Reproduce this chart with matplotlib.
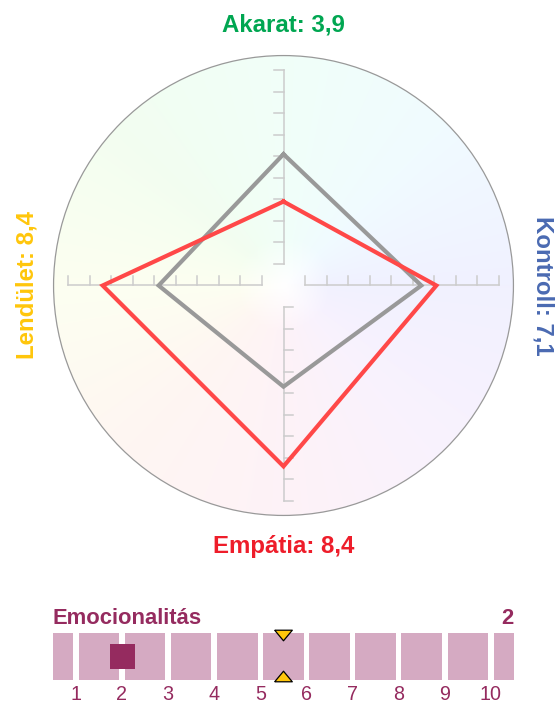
import numpy as np
import matplotlib
matplotlib.use("Agg")
import matplotlib.pyplot as plt
from matplotlib.path import Path
from matplotlib.patches import Circle

plt.rcParams['font.family'] = ['Liberation Sans', 'DejaVu Sans']

# radar data: order up, right, down, left
axis_names = ['Akarat', 'Kontroll', 'Empátia', 'Lendület']
axis_colors = ['#00A651', '#4A6AB2', '#EE1D2A', '#FFC60B']
person_values = [3.9, 7.1, 8.4, 8.4]
average_values = [6.1, 6.4, 4.7, 5.8]
scale_ticks = list(range(1, 11))

# bottom scale
scale_title = 'Emocionalitás'
scale_value = 2
scale_average = 5.5
scale_labels = [str(i) for i in range(1, 11)]

W, H = 558, 704
fig = plt.figure(figsize=(W / 100, H / 100), dpi=100)

# radar axes, pixel geometry -> data units
cx, cy, ppu = 283.5, 285.5, 21.53
top_h = 570
ax = fig.add_axes([0, (H - top_h) / H, 1, top_h / H])
ax.set_xlim(-cx / ppu, (W - cx) / ppu)
ax.set_ylim(-(top_h - cy) / ppu, cy / ppu)
ax.axis('off')

R = 10.68
# pastel conic background
n = 600
gx = np.linspace(-R, R, n)
X, Y = np.meshgrid(gx, gx)
ang = np.degrees(np.arctan2(Y, X)) % 360
rad = np.hypot(X, Y) / R
anchors = np.array([0, 45, 90, 135, 180, 225, 270, 315, 360])
cols = np.array([
    [0.945, 0.945, 1.000],
    [0.945, 0.985, 1.000],
    [0.945, 1.000, 0.975],
    [0.950, 0.995, 0.945],
    [0.990, 1.000, 0.945],
    [1.000, 0.965, 0.950],
    [0.995, 0.950, 0.970],
    [0.975, 0.950, 0.995],
    [0.945, 0.945, 1.000],
])
img = np.zeros((n, n, 4))
w = np.clip(rad * 5, 0, 1)
for c in range(3):
    base = np.interp(ang, anchors, cols[:, c])
    img[..., c] = 1 - (1 - base) * w
img[..., 3] = 1
bg = ax.imshow(img, extent=(-R, R, -R, R), origin='lower', zorder=0)
bg.set_clip_path(Circle((0, 0), R, transform=ax.transData))
ax.add_patch(Circle((0, 0), R, fill=False, edgecolor='#999999', lw=0.9, zorder=1))

dirs = [(0, 1), (1, 0), (0, -1), (-1, 0)]
tick_dirs = [(-1, 0), (0, 1), (1, 0), (0, 1)]
tl = 0.46
for (dx, dy), (tx, ty) in zip(dirs, tick_dirs):
    t0, t1 = scale_ticks[0], scale_ticks[-1]
    ax.plot([t0 * dx, t1 * dx], [t0 * dy, t1 * dy], color='#CCCCCC', lw=1.1, zorder=2)
    for k in scale_ticks:
        ax.plot([k * dx, k * dx + tl * tx], [k * dy, k * dy + tl * ty],
                color='#CCCCCC', lw=1.1, zorder=2)


def polygon(vals):
    xs = [v * d[0] for v, d in zip(vals, dirs)]
    ys = [v * d[1] for v, d in zip(vals, dirs)]
    return xs + xs[:1], ys + ys[:1]


gxs, gys = polygon(average_values)
ax.plot(gxs, gys, color='#999999', lw=3, solid_joinstyle='miter', zorder=3)
pxs, pys = polygon(person_values)
ax.plot(pxs, pys, color='#FF4848', lw=3, solid_joinstyle='miter', zorder=4)

labels = ['%s: %s' % (nm, str(v).replace('.', ',')) for nm, v in zip(axis_names, person_values)]
fs = 17.3
ax.text(0, 11.79, labels[0], color=axis_colors[0], fontsize=fs, fontweight='bold',
        ha='center', va='baseline')
ax.text(11.75, 0, labels[1], color=axis_colors[1], fontsize=fs, fontweight='bold',
        ha='center', va='baseline', rotation=-90, rotation_mode='anchor')
ax.text(0, -12.44, labels[2], color=axis_colors[2], fontsize=fs, fontweight='bold',
        ha='center', va='baseline')
ax.text(-11.6, 0, labels[3], color=axis_colors[3], fontsize=fs, fontweight='bold',
        ha='center', va='baseline', rotation=90, rotation_mode='anchor')

# bottom scale bar
bx0, bx1 = 52.7, 514
by_top, by_bot = 632.7, 680
bax = fig.add_axes([bx0 / W, (H - by_bot) / H, (bx1 - bx0) / W, (by_bot - by_top) / H])
bax.set_xlim(0.5, 10.5)
bax.set_ylim(0, 1)
bax.axis('off')

gap = 0.12
lefts = [0.5] + [i + gap / 2 for i in range(1, 11)]
rights = [1 - gap / 2] + [i + 1 - gap / 2 for i in range(1, 10)] + [10.5]
widths = [r - l for l, r in zip(lefts, rights)]
bax.bar(lefts, [1] * len(lefts), width=widths, align='edge', color='#D5AAC2', zorder=1)
maroon = '#952B5F'
bax.plot([scale_value], [0.5], marker='s', ms=18, color=maroon, mew=0, zorder=2)

tri_down = Path([(-1, 0.6), (1, 0.6), (0, -0.6), (-1, 0.6)])
tri_up = Path([(-1, -0.6), (1, -0.6), (0, 0.6), (-1, -0.6)])
bax.plot([scale_average], [0.96], marker=tri_down, ms=12.7, color='#FFC60B',
         mec='black', mew=0.9, clip_on=False, zorder=3)
bax.plot([scale_average], [0.09], marker=tri_up, ms=12.7, color='#FFC60B',
         mec='black', mew=0.9, clip_on=False, zorder=3)

bax.text(0.5, 1.184, scale_title, color=maroon, fontsize=15.8, fontweight='bold',
         ha='left', va='baseline')
bax.text(10.5, 1.184, str(scale_value), color=maroon, fontsize=15.8, fontweight='bold',
         ha='right', va='baseline')
for i, lab in enumerate(scale_labels):
    bax.text(i + 1, -0.43, lab, color=maroon, fontsize=14.2, ha='center', va='baseline')

fig.savefig('out.png', dpi=100)
